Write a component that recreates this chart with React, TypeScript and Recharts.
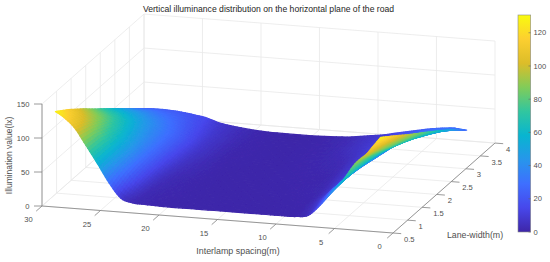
import { Scatter, ScatterChart, XAxis, YAxis } from "recharts";

// columns of the surface, far (left) to near (right)
const spacing = [29.6, 29, 28, 27, 26, 25, 24, 23, 22, 20, 18, 15, 12, 10, 9, 8, 7, 6, 5, 4, 3, 2.5, 1.8];
// rows of the surface, near to far
const laneWidth = [0.8, 1.25, 1.75, 2.25, 2.75, 3.25, 3.75];

const luxLane08 = [128, 122, 107, 82, 56, 29, 8, 2.5, 1.5, 0.5, 0.5, 0.5, 0.5, 0.5, 1, 4, 20, 41, 60, 85, 101, 112, 127];
const luxLane12 = [114, 109, 97, 79, 57, 36, 17, 5, 2, 1, 0.5, 0.5, 0.5, 1, 2, 10, 27, 43, 59, 78, 91, 100, 112];
const luxLane17 = [96, 92, 84, 69, 54, 37, 21, 8, 3, 1, 0.5, 0.5, 0.8, 1.5, 3, 11, 26, 41, 55, 68, 79, 85, 95];
const luxLane22 = [77, 74, 68, 59, 46, 35, 23, 12, 5, 1.5, 0.5, 0.5, 1, 1.5, 5, 12, 24, 35, 49, 58, 67, 72, 79];
const luxLane27 = [58.5, 56.5, 52, 46, 39, 31, 23, 14, 7, 1.5, 0.8, 0.5, 1.5, 3, 7, 12, 20, 30, 42, 49, 54, 58, 62.6];
const luxLane32 = [40, 39, 37, 33, 29, 24, 18, 12, 7, 2, 0.8, 0.5, 2, 6, 9, 14, 19, 26, 33, 37, 41, 43, 45];
const luxLane37 = [21, 21.5, 22, 21.5, 20, 17.6, 14.5, 9, 6, 2, 0.5, 0.3, 2.5, 7, 9.4, 13, 16.5, 20, 23.5, 26, 27.6, 27, 26];
const luxRows = [luxLane08, luxLane12, luxLane17, luxLane22, luxLane27, luxLane32, luxLane37];

const spacingTicks = [30, 25, 20, 15, 10, 5, 0];
const laneTicks = [0.5, 1, 1.5, 2, 2.5, 3, 3.5, 4];
const luxTicks = [0, 50, 100, 150];
const barTicks = [0, 20, 40, 60, 80, 100, 120];
const barRange = [0, 130.7];

// parula, evenly spaced
const parula = [
	[62, 38, 168],
	[71, 71, 235],
	[62, 111, 255],
	[39, 150, 235],
	[8, 181, 208],
	[49, 198, 159],
	[129, 204, 89],
	[220, 189, 41],
	[252, 207, 48],
	[249, 251, 14],
];

const colorOf = (lux: number) => {
	const t = Math.min(Math.max(lux / barRange[1], 0), 1) * (parula.length - 1);
	const i = Math.min(Math.floor(t), parula.length - 2);
	const f = t - i;
	const c = parula[i].map((v, k) => Math.round(v + (parula[i + 1][k] - v) * f));
	return `rgb(${c[0]},${c[1]},${c[2]})`;
};

// fixed 3D view of the axes, onto the chart's plane
const project = (s: number, l: number, z: number) => ({
	px: 393 - 11.7 * s + 29.14 * (l - 0.5),
	py: 233 - 0.9 * s - 25.7 * (l - 0.5) - 0.68 * z,
});
const barPoint = (lux: number) => ({ px: 518, py: 232 - (217 / barRange[1]) * lux });

const nodes: any[] = [];
laneWidth.forEach((l, r) => {
	spacing.forEach((s, c) => {
		nodes.push({ ...project(s, l, luxRows[r][c]), lux: luxRows[r][c] });
	});
});

const gridLines: any[] = [];
const pushLine = (list: any[], a: any, b: any) => list.push(a, b);
const [sMax, sMin] = [spacingTicks[0], spacingTicks[spacingTicks.length - 1]];
const [lMin, lMax] = [laneTicks[0], laneTicks[laneTicks.length - 1]];
const zTop = luxTicks[luxTicks.length - 1];
spacingTicks.forEach((s) => {
	pushLine(gridLines, project(s, lMin, 0), project(s, lMax, 0));
	pushLine(gridLines, project(s, lMax, 0), project(s, lMax, zTop));
});
laneTicks.forEach((l) => {
	pushLine(gridLines, project(sMin, l, 0), project(sMax, l, 0));
	pushLine(gridLines, project(sMax, l, 0), project(sMax, l, zTop));
});
luxTicks.forEach((z) => {
	pushLine(gridLines, project(sMax, lMin, z), project(sMax, lMax, z));
	pushLine(gridLines, project(sMax, lMax, z), project(sMin, lMax, z));
});

const axisLines: any[] = [];
pushLine(axisLines, project(sMax, lMin, 0), project(sMin, lMin, 0));
pushLine(axisLines, project(sMin, lMin, 0), project(sMin, lMax, 0));
pushLine(axisLines, project(sMax, lMin, 0), project(sMax, lMin, zTop));
spacingTicks.forEach((s) => pushLine(axisLines, project(s, lMin, 0), project(s, lMin - 0.2, 0)));
laneTicks.forEach((l) => pushLine(axisLines, project(sMin, l, 0), project(sMin - 0.7, l, 0)));
luxTicks.forEach((z) => {
	const p = project(sMax, lMin, z);
	pushLine(axisLines, p, { px: p.px - 8, py: p.py });
});

const spacingLabels = spacingTicks.map((s) => ({ ...project(s, lMin, 0), label: s }));
const laneLabels = laneTicks.map((l) => ({ ...project(sMin, l, 0), label: l }));
const luxLabels = luxTicks.map((z) => ({ ...project(sMax, lMin, z), label: z }));
const barLabels = barTicks.map((v) => ({ ...barPoint(v), label: v }));
const barEnds = barRange.map(barPoint);

const FONT = "'Liberation Sans', Arial, sans-serif";
const TEXT = "#505050";
const SUB_COL = 6;
const SUB_ROW = 5;

const NoDot = () => null;

const tickText = (dx: number, dy: number, anchor: string) => (p: any) => (
	<text x={p.cx + dx} y={p.cy + dy} textAnchor={anchor} fontSize={7.6} fontFamily={FONT} fill={TEXT}>
		{p.payload.label}
	</text>
);

const segments = (stroke: string, width: number) => (p: any) => {
	let d = "";
	for (let i = 0; i + 1 < p.points.length; i += 2) {
		const a = p.points[i];
		const b = p.points[i + 1];
		d += `M${a.x},${a.y}L${b.x},${b.y}`;
	}
	return <path d={d} stroke={stroke} strokeWidth={width} fill="none" />;
};

// smooth blend through four neighbours along a row
const blend = (a: number, b: number, c: number, d: number, t: number) =>
	0.5 * (2 * b + (c - a) * t + (2 * a - 5 * b + 4 * c - d) * t * t + (3 * b - a - 3 * c + d) * t * t * t);

// interp shading: node positions come from the chart's scales, each cell is
// painted back to front with its colour blended between the node values
const surface = (p: any) => {
	const cols = spacing.length;
	const along = (r: number, c: number, u: number) => {
		const idx = [Math.max(c - 1, 0), c, c + 1, Math.min(c + 2, cols - 1)];
		const n = idx.map((k) => p.points[r * cols + k]);
		const z = idx.map((k) => luxRows[r][k]);
		return {
			x: blend(n[0].x, n[1].x, n[2].x, n[3].x, u),
			y: blend(n[0].y, n[1].y, n[2].y, n[3].y, u),
			z: blend(z[0], z[1], z[2], z[3], u),
		};
	};
	const polys: any[] = [];
	for (let c = 0; c < cols - 1; c++) {
		for (let i = 0; i < SUB_COL; i++) {
			const u0 = i / SUB_COL;
			const u1 = (i + 1) / SUB_COL;
			for (let r = laneWidth.length - 2; r >= 0; r--) {
				const [a0, a1, b0, b1] = [along(r + 1, c, u0), along(r + 1, c, u1), along(r, c, u0), along(r, c, u1)];
				const mix = (a: any, b: any, v: number) => ({
					x: a.x + (b.x - a.x) * v,
					y: a.y + (b.y - a.y) * v,
					z: a.z + (b.z - a.z) * v,
				});
				for (let j = 0; j < SUB_ROW; j++) {
					const q = [
						mix(a0, b0, j / SUB_ROW),
						mix(a1, b1, j / SUB_ROW),
						mix(a1, b1, (j + 1) / SUB_ROW),
						mix(a0, b0, (j + 1) / SUB_ROW),
					];
					const col = colorOf((q[0].z + q[1].z + q[2].z + q[3].z) / 4);
					polys.push(
						<polygon
							key={`${c}-${i}-${r}-${j}`}
							points={q.map((k) => `${k.x.toFixed(2)},${k.y.toFixed(2)}`).join(" ")}
							fill={col}
							stroke={col}
							strokeWidth={1.2}
							strokeLinejoin="round"
						/>
					);
				}
			}
		}
	}
	return <g filter="url(#soft)">{polys}</g>;
};

const colorBar = (p: any) => {
	const [low, high] = p.points;
	return (
		<rect x={low.x} y={high.y} width={12.7} height={low.y - high.y} fill="url(#barFill)" stroke="#8a8a8a" strokeWidth={0.6} />
	);
};

const barTickMarks = (p: any) => (
	<g>
		{barLabels.map((b, i) => {
			const y = b.py;
			return <line key={i} x1={p.points[0].x + 10.5} x2={p.points[0].x + 12.7} y1={y} y2={y} stroke="#666" strokeWidth={0.6} />;
		})}
	</g>
);

export default function App() {
	return (
		<div style={{ position: "absolute", left: 0, top: 0, width: 550, height: 262, background: "#fff" }}>
			<ScatterChart width={550} height={262} margin={{ top: 0, right: 0, bottom: 0, left: 0 }}>
				<defs>
					<filter id="soft" x="-5%" y="-5%" width="110%" height="110%">
						<feGaussianBlur stdDeviation="0.6" />
					</filter>
					<linearGradient id="barFill" x1="0" y1="1" x2="0" y2="0">
						{parula.map((c, i) => (
							<stop key={i} offset={i / (parula.length - 1)} stopColor={`rgb(${c[0]},${c[1]},${c[2]})`} />
						))}
					</linearGradient>
				</defs>
				<XAxis type="number" dataKey="px" domain={[0, 550]} hide />
				<YAxis type="number" dataKey="py" domain={[0, 262]} reversed hide />

				<Scatter data={gridLines} shape={NoDot} line={segments("#e8e8e8", 0.8)} isAnimationActive={false} />
				<Scatter data={axisLines} shape={NoDot} line={segments("#808080", 0.8)} isAnimationActive={false} />
				<Scatter data={nodes} shape={NoDot} line={surface} isAnimationActive={false} />

				<Scatter data={spacingLabels} shape={tickText(-13.5, 16, "middle")} isAnimationActive={false} />
				<Scatter data={laneLabels} shape={tickText(11, 8.7, "start")} isAnimationActive={false} />
				<Scatter data={luxLabels} shape={tickText(-12.5, 2.7, "end")} isAnimationActive={false} />

				<Scatter data={barEnds} shape={NoDot} line={colorBar} isAnimationActive={false} />
				<Scatter data={barEnds} shape={NoDot} line={barTickMarks} isAnimationActive={false} />
				<Scatter data={barLabels} shape={tickText(15.5, 2.7, "start")} isAnimationActive={false} />

				<text x={268.5} y={11.5} textAnchor="middle" fontSize={8.65} fontFamily={FONT} fill="#262626">
					Vertical illuminance distribution on the horizontal plane of the road
				</text>
				<text x={238} y={253.5} textAnchor="middle" fontSize={8.9} fontFamily={FONT} fill={TEXT}>
					Interlamp spacing(m)
				</text>
				<text x={475} y={238} textAnchor="middle" fontSize={8.8} fontFamily={FONT} fill={TEXT}>
					Lane-width(m)
				</text>
				<text
					transform="translate(12,155.5) rotate(-90)"
					textAnchor="middle"
					fontSize={8.5}
					fontFamily={FONT}
					fill={TEXT}
				>
					Illumination value(lx)
				</text>
			</ScatterChart>
		</div>
	);
}
